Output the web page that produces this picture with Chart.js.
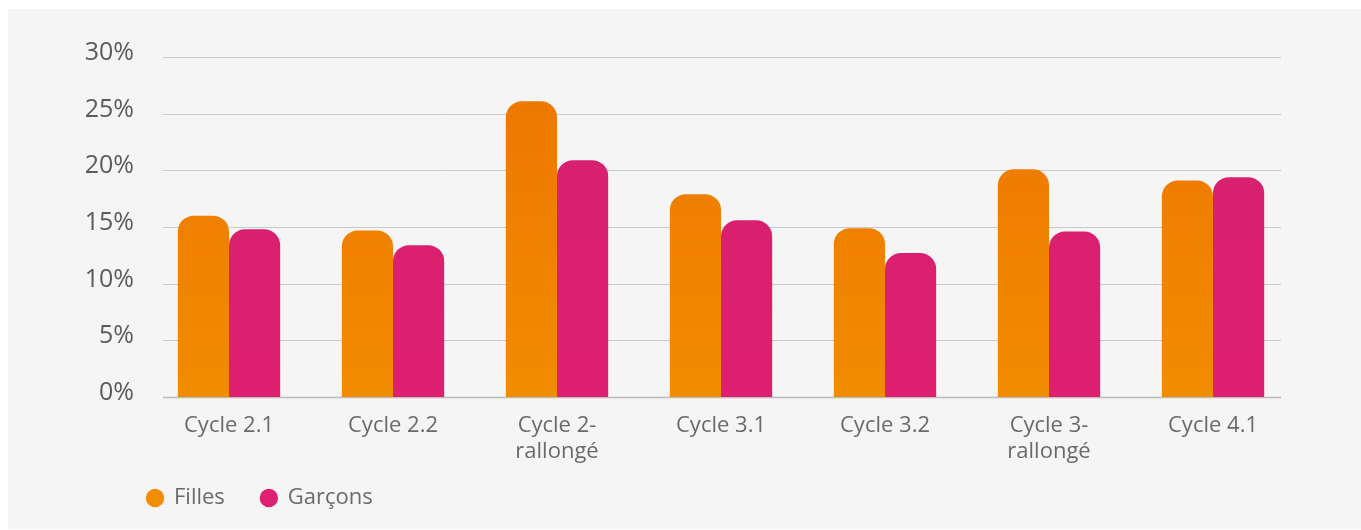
<!DOCTYPE html>
<html>
<head>
<meta charset="utf-8">
<script src="https://cdn.jsdelivr.net/npm/chart.js@4.4.0/dist/chart.umd.min.js"></script>
<style>
  html, body { margin: 0; padding: 0; background: #fff; }
  #panel { position: absolute; left: 8px; top: 9px; width: 1353px; height: 520px; background: #f5f5f5; }
  canvas { display: block; }
</style>
</head>
<body>
<div id="panel"><canvas id="chart" width="1353" height="520"></canvas></div>
<script>
// data
const categories = ['Cycle 2.1', 'Cycle 2.2', ['Cycle 2-', 'rallongé'], 'Cycle 3.1', 'Cycle 3.2', ['Cycle 3-', 'rallongé'], 'Cycle 4.1'];
const filles = [16.0, 14.7, 26.1, 17.9, 14.9, 20.1, 19.1];
const garcons = [14.8, 13.4, 20.9, 15.6, 12.7, 14.6, 19.4];
const seriesNames = ['Filles', 'Garçons'];

const FONT = '"Open Sans", Lato, sans-serif';

function barGradient(top, bottom) {
    return function(c) {
        const area = c.chart.chartArea;
        if (!area) return top;
        const g = c.chart.ctx.createLinearGradient(0, area.top, 0, area.bottom);
        g.addColorStop(0, top);
        g.addColorStop(1, bottom);
        return g;
    };
}

// grid lines are inset from the plot edges, so draw them ourselves off the y scale
const insetGrid = {
    id: 'insetGrid',
    beforeDatasetsDraw(chart) {
        const ctx = chart.ctx;
        const y = chart.scales.y;
        const left = chart.chartArea.left + 16;
        const right = chart.chartArea.right - 14;
        ctx.save();
        y.ticks.forEach(t => {
            const py = Math.round(y.getPixelForValue(t.value)) + 0.5;
            ctx.beginPath();
            ctx.strokeStyle = t.value === 0 ? '#bcbcbc' : '#c9c9c9';
            ctx.lineWidth = t.value === 0 ? 1.5 : 1;
            ctx.moveTo(left, py);
            ctx.lineTo(right, py);
            ctx.stroke();
        });
        ctx.restore();
    }
};

// push the legend in under the axis labels (and give it room so it isn't clipped)
const legendShift = {
    id: 'legendShift',
    afterLayout(chart) {
        const lg = chart.legend;
        lg.left += 103;
        lg.right += 103;
        lg.top -= 18;
        lg.bottom = lg.top + 80;
        lg.height = 80;
    }
};

new Chart(document.getElementById('chart'), {
    type: 'bar',
    data: {
        labels: categories,
        datasets: [{
            label: seriesNames[0],
            data: filles,
            backgroundColor: barGradient('#ed7500', '#f28c00')
        }, {
            label: seriesNames[1],
            data: garcons,
            backgroundColor: barGradient('#d3216f', '#df1f6f')
        }]
    },
    options: {
        responsive: false,
        animation: false,
        layout: { padding: { left: 0, right: 66, top: 48, bottom: 10 } },
        datasets: {
            bar: {
                categoryPercentage: 0.624,
                barPercentage: 1,
                borderRadius: 16,
                borderSkipped: 'start'
            }
        },
        scales: {
            y: {
                min: 0,
                max: 30,
                afterFit(scale) { scale.width = 139; },
                ticks: {
                    stepSize: 5,
                    padding: 13,
                    labelOffset: -4,
                    color: '#5b5b5b',
                    font: { family: FONT, size: 25 },
                    callback: v => v + '%'
                },
                grid: { display: false, drawTicks: false },
                border: { display: false }
            },
            x: {
                afterFit(scale) { scale.height = 72; },
                ticks: {
                    padding: 16,
                    color: '#6a6a6a',
                    font: { family: FONT, size: 22, lineHeight: 1.18 },
                    maxRotation: 0
                },
                grid: { display: false, drawTicks: false },
                border: { display: false }
            }
        },
        plugins: {
            legend: {
                position: 'bottom',
                align: 'start',
                maxHeight: 50,
                labels: {
                    usePointStyle: true,
                    pointStyle: 'circle',
                    boxWidth: 16,
                    boxHeight: 13,
                    padding: 36,
                    color: '#6a6a6a',
                    font: { family: FONT, size: 22 }
                }
            },
            tooltip: { enabled: false }
        }
    },
    plugins: [insetGrid, legendShift]
});
</script>
</body>
</html>
